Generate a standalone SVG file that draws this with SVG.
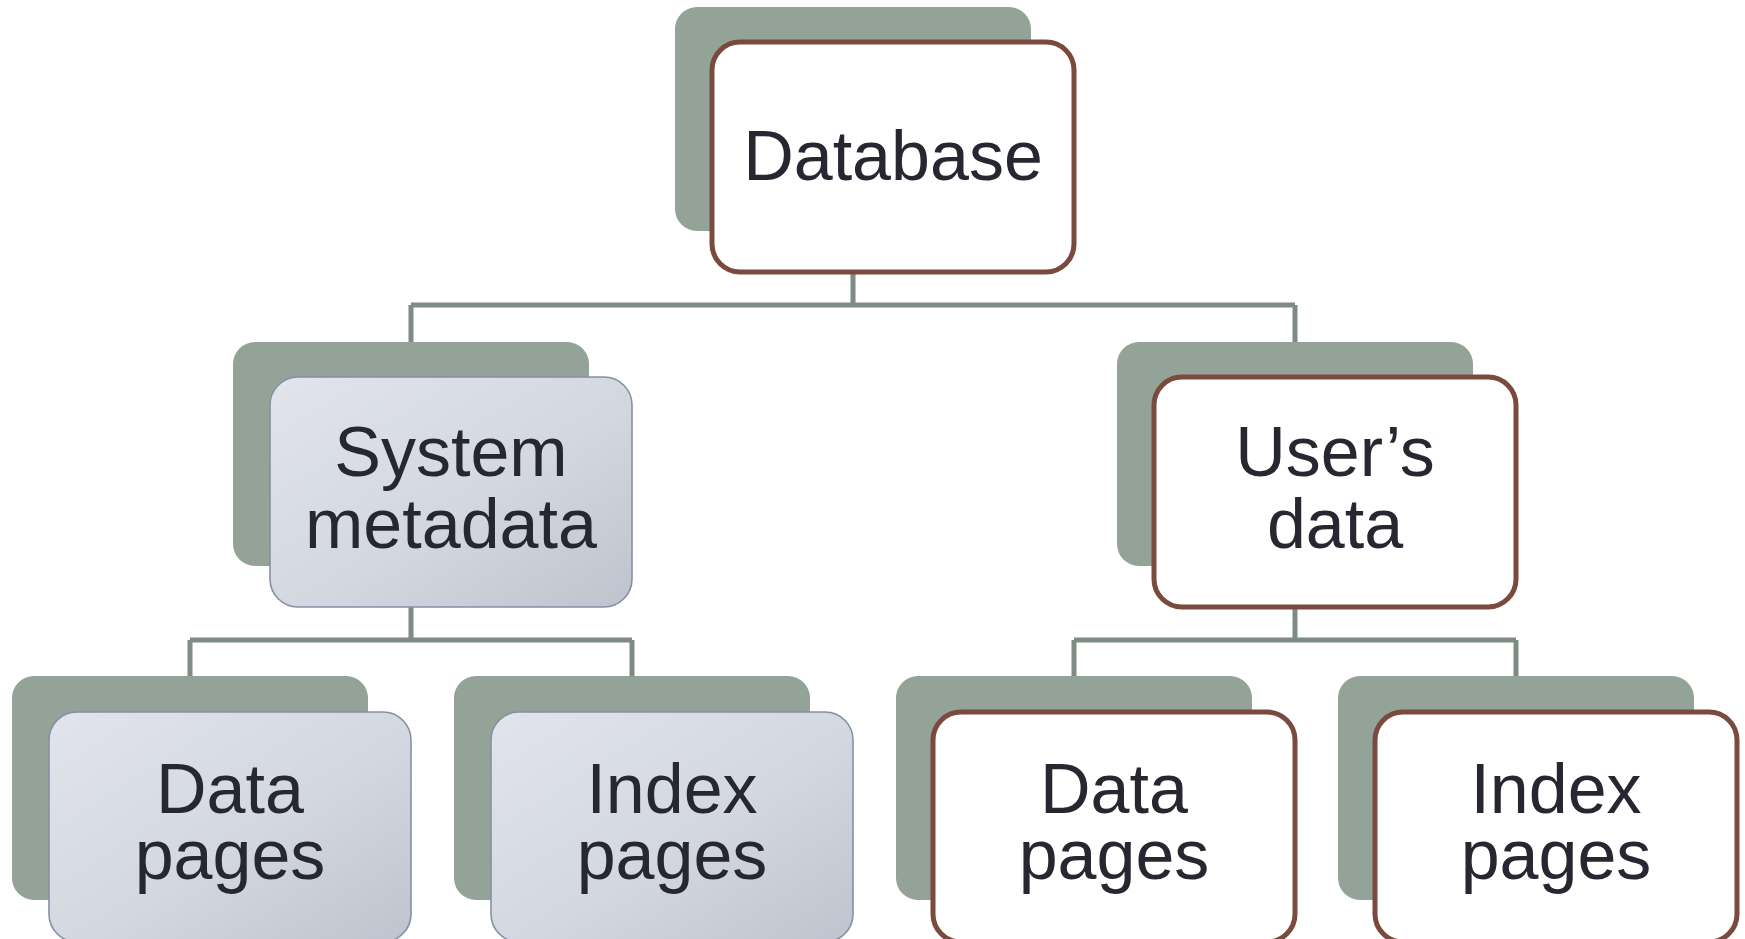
<svg xmlns="http://www.w3.org/2000/svg" width="1745" height="939" viewBox="0 0 1745 939">
<defs>
<linearGradient id="g" x1="0" y1="0" x2="1" y2="1">
<stop offset="0" stop-color="#e1e4eb"/>
<stop offset="0.55" stop-color="#d3d7df"/>
<stop offset="1" stop-color="#bfc3cd"/>
</linearGradient>
<style>
.sh{fill:#93a398;}
.fs{fill:url(#g);stroke:#8590a5;stroke-width:1.6;}
.fu{fill:#ffffff;stroke:#7b4a3e;stroke-width:5;}
.t{font-family:"Liberation Sans",Arial,sans-serif;font-size:70px;fill:#272731;text-anchor:middle;}
.c{fill:none;stroke:#7f8c83;stroke-width:5;}
</style>
</defs>
<rect width="1745" height="939" fill="#ffffff"/>
<g id="connectors">
<path class="c" d="M853 272V305M411 305H1295M411 305V342M1295 305V342"/>
<path class="c" d="M411 607V640M190 640H632M190 640V676M632 640V676"/>
<path class="c" d="M1295 607V640M1074 640H1516M1074 640V676M1516 640V676"/>
</g>
<g id="database">
<rect class="sh" x="675" y="7" width="356" height="224" rx="22"/>
<rect class="fu" x="712" y="42" width="362" height="230" rx="28"/>
<text class="t" x="893" y="180">Database</text>
</g>
<g id="system-metadata">
<rect class="sh" x="233" y="342" width="356" height="224" rx="22"/>
<rect class="fs" x="270" y="377" width="362" height="230" rx="28"/>
<text class="t" x="451" y="476">System</text>
<text class="t" x="451" y="548">metadata</text>
</g>
<g id="users-data">
<rect class="sh" x="1117" y="342" width="356" height="224" rx="22"/>
<rect class="fu" x="1154" y="377" width="362" height="230" rx="28"/>
<text class="t" x="1335" y="476">User’s</text>
<text class="t" x="1335" y="548">data</text>
</g>
<g id="sys-data-pages">
<rect class="sh" x="12" y="676" width="356" height="224" rx="22"/>
<rect class="fs" x="49" y="712" width="362" height="230" rx="28"/>
<text class="t" x="230" y="813">Data</text>
<text class="t" x="230" y="879">pages</text>
</g>
<g id="sys-index-pages">
<rect class="sh" x="454" y="676" width="356" height="224" rx="22"/>
<rect class="fs" x="491" y="712" width="362" height="230" rx="28"/>
<text class="t" x="672" y="813">Index</text>
<text class="t" x="672" y="879">pages</text>
</g>
<g id="user-data-pages">
<rect class="sh" x="896" y="676" width="356" height="224" rx="22"/>
<rect class="fu" x="933" y="712" width="362" height="230" rx="28"/>
<text class="t" x="1114" y="813">Data</text>
<text class="t" x="1114" y="879">pages</text>
</g>
<g id="user-index-pages">
<rect class="sh" x="1338" y="676" width="356" height="224" rx="22"/>
<rect class="fu" x="1375" y="712" width="362" height="230" rx="28"/>
<text class="t" x="1556" y="813">Index</text>
<text class="t" x="1556" y="879">pages</text>
</g>
</svg>
